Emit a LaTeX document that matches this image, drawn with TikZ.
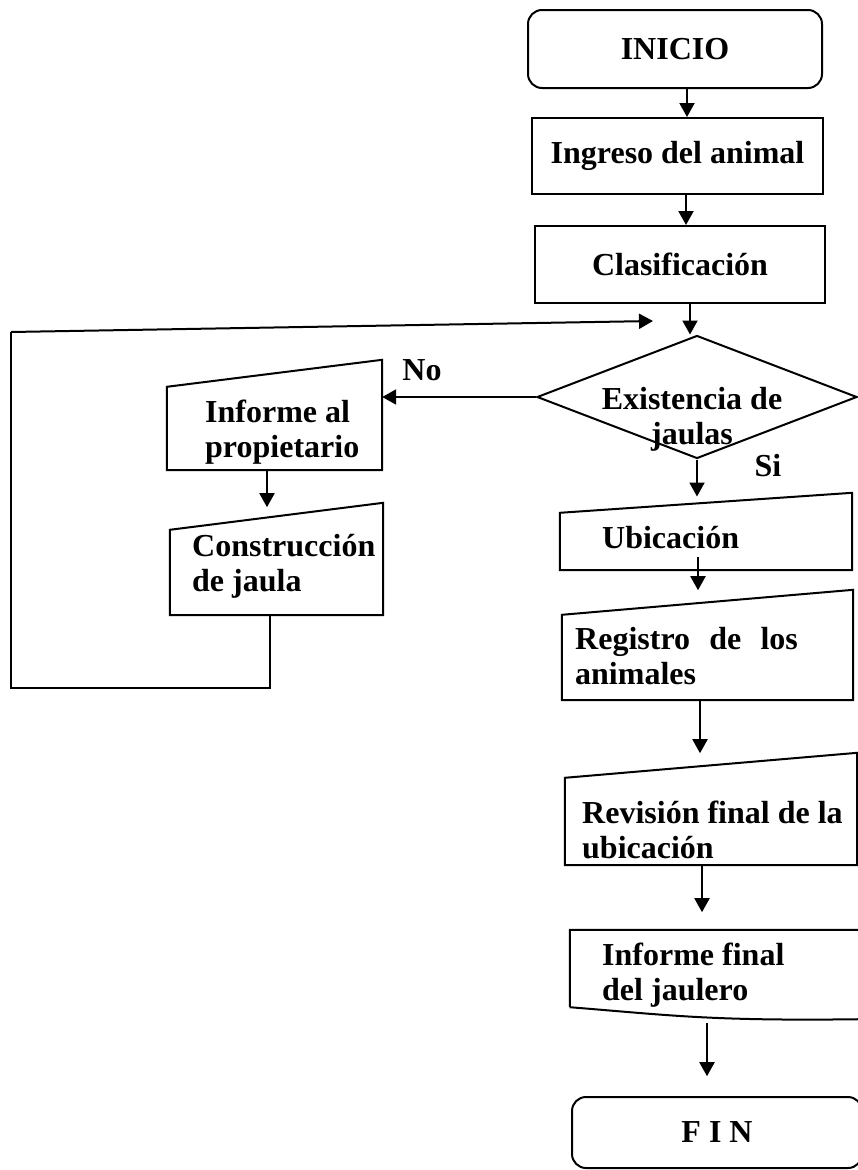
\documentclass[tikz,border=0pt]{standalone}
\usepackage{fontspec}
\setmainfont{Liberation Serif}
\usetikzlibrary{shapes.geometric,arrows.meta}
\tikzset{
  lw/.style={line width=2pt},
  term/.style={draw, lw, rounded corners=14pt, inner sep=0pt},
  proc/.style={draw, lw, inner sep=0pt},
  mbox/.style={inner sep=0pt},
  txt/.style={font=\fontsize{32}{35}\selectfont\bfseries, inner sep=0pt, align=left},
  arr/.style={lw, -{Triangle[length=14pt,width=15pt]}},
  conn/.style={lw}
}
\begin{document}
\begin{tikzpicture}[x=1pt,y=-1pt]
\useasboundingbox (0,0) rectangle (858,1170);

% right column
\node[term, minimum width=294pt, minimum height=78pt, txt] (ini) at (675,49) {INICIO};
\node[proc, minimum width=291pt, minimum height=76pt, txt] (ing) at (677.5,156) {Ingreso del animal};
\node[proc, minimum width=290pt, minimum height=77pt, txt] (cla) at (680,264.5) {Clasificación};
\node[draw, lw, diamond, inner sep=0pt, minimum width=320pt, minimum height=123pt] (dec) at (697,397) {};
\node[txt, align=center] (dect) at (692,419) {Existencia de\\jaulas};

\node[mbox, minimum width=292pt, minimum height=57pt] (ubi) at (706,541.5) {};
\node[txt, anchor=west] (ubit) at (602,538) {Ubicación};
\node[mbox, minimum width=291pt, minimum height=85pt] (reg) at (707.5,657.5) {};
\node[txt, anchor=west] (regt) at (575,656) {Registro\hspace{0.6em}de\hspace{0.6em}los\\animales};
\node[mbox, minimum width=292pt, minimum height=87pt] (rev) at (711,821.5) {};
\node[txt, anchor=west] (revt) at (582,830) {Revisión final de la\\ubicación};
\node[mbox, minimum width=290pt, minimum height=77pt] (inff) at (715,968.5) {};
\node[txt, anchor=west] (infft) at (602,975) {Informe final\\del jaulero};
\node[term, minimum width=290pt, minimum height=71pt, txt] (fin) at (717,1132.5) {F I N};

% left column
\node[mbox, minimum width=215pt, minimum height=83pt] (inf) at (274.5,428.5) {};
\node[txt, anchor=west] (inft) at (205,432) {Informe al\\propietario};
\node[mbox, minimum width=213pt, minimum height=85pt] (con) at (276.5,572.5) {};
\node[txt, anchor=west] (cont) at (192,566) {Construcción\\de jaula};

% manual input outlines
\foreach \n/\s in {inf/27, con/27, ubi/20, reg/25, rev/25}
  \draw[lw] (\n.south west) -- (\n.south east) -- ([yshift=\s]\n.north east) -- (\n.north west) -- cycle;

% document outline
\draw[lw] (inff.south west) -- (inff.north west) -- (inff.north east) -- ([yshift=-12]inff.south east)
  .. controls ([xshift=-150,yshift=-14]inff.south east) and ([xshift=100,yshift=-8]inff.south west) .. (inff.south west);

% labels
\node[txt] (no) at (422,370) {No};
\node[txt] (si) at (768,466) {Si};

% connectors
\draw[arr] ([xshift=12]ini.south) -- ([xshift=12]ini.south |- ing.north);
\draw[arr] ([xshift=8.5]ing.south) -- ([xshift=8.5]ing.south |- cla.north);
\draw[arr] ([xshift=10]cla.south) -- ([xshift=10]cla.south |- dec.north);
\draw[arr] (dec.west) -- (dec.west -| inf.east);
\draw[arr] (dec.south) -- ++(0,37);
\draw[arr] ([xshift=-7.5]inf.south) -- ++(0,37);
\draw[arr] ([xshift=-8,yshift=13]ubi.south) -- ++(0,33);
\draw[arr] ([xshift=-7.5]reg.south) -- ++(0,53);
\draw[arr] ([xshift=-9]rev.south) -- ++(0,47);
\draw[arr] ([xshift=-8,yshift=-16]inff.south) -- ++(0,53);

% loop back
\coordinate (lbr) at (270,688);
\coordinate (lbl) at (11,688);
\coordinate (ltl) at (11,332);
\coordinate (ltip) at (653,321);
\draw[conn] ([xshift=-6.5]con.south) -- (lbr) -- (lbl) -- (ltl);
\draw[arr] (ltl) -- (ltip);
\end{tikzpicture}
\end{document}
